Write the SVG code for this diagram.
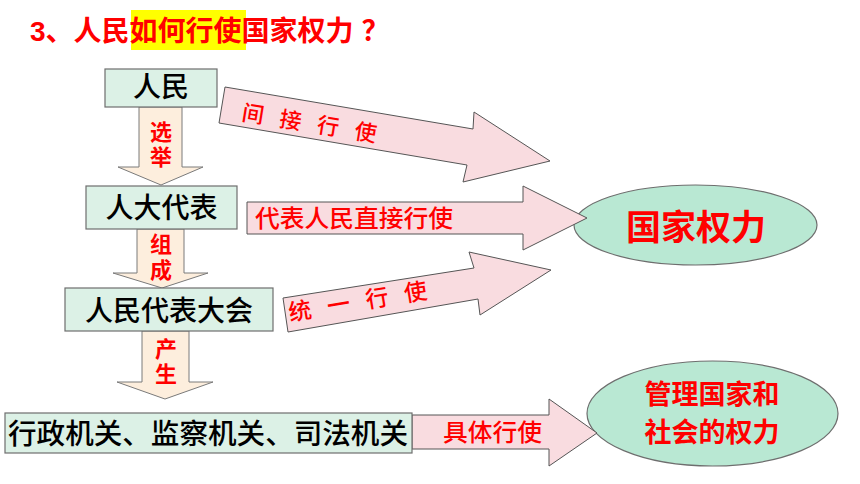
<svg xmlns="http://www.w3.org/2000/svg" width="860" height="484" viewBox="0 0 860 484">
<style>
.box{fill:#DCF1E6;stroke:#6E6E6E;stroke-width:1.2}
.ell{fill:#B9E8D3;stroke:#6E6E6E;stroke-width:1.2}
.down{fill:#FDEEDD;stroke:#7A7A7A;stroke-width:1}
.right{fill:#F9DCE0;stroke:#555;stroke-width:1}
.nt{font-family:"Noto Sans CJK SC","Liberation Sans",sans-serif;font-size:28px;fill:#000;text-anchor:middle;font-weight:500}
.lbl{font-family:"Liberation Sans","Noto Sans CJK SC",sans-serif;fill:#FF0000;font-weight:bold;font-size:22px;text-anchor:middle}
.rl{font-family:"Noto Sans CJK SC","Liberation Sans",sans-serif;fill:#FF0000;font-weight:500}
</style>
<rect width="860" height="484" fill="#FFFFFF"/>
<g id="title">
<rect x="131" y="10" width="115" height="40" fill="#FFFF00"/>
<text x="30" y="41" font-family="Liberation Sans,Noto Sans CJK SC,sans-serif" font-size="28" font-weight="bold" fill="#FF0000">3、人民如何行使国家权力<tspan dx="8" font-family="Noto Sans CJK SC,sans-serif">？</tspan></text>
</g>
<g id="node-guojiaquanli">
<ellipse class="ell" cx="695.5" cy="225" rx="121.5" ry="40"/>
<text x="696" y="240" font-family="Noto Sans CJK SC,sans-serif" font-size="35" font-weight="bold" fill="#FF0000" text-anchor="middle">国家权力</text>
</g>
<g id="node-guanli">
<ellipse class="ell" cx="712.5" cy="413.5" rx="125.5" ry="52.5"/>
<text font-family="Noto Sans CJK SC,sans-serif" font-size="27" font-weight="bold" fill="#FF0000" text-anchor="middle"><tspan x="712" y="404">管理国家和</tspan><tspan x="712" y="442">社会的权力</tspan></text>
</g>
<g id="connectors">
<path class="down" d="M139,107 L182,107 L182,167 L203,167 L161,185 L118,167 L139,167 Z"/>
<text class="lbl" x="161" y="140">选</text>
<text class="lbl" x="161" y="165">举</text>
<path class="down" d="M137,229 L184,229 L184,273 L208,273 L162,288 L113,273 L137,273 Z"/>
<text class="lbl" x="161" y="252">组</text>
<text class="lbl" x="161" y="278">成</text>
<path class="down" d="M142,331 L189,331 L189,382 L213,382 L165,399 L117,382 L142,382 Z"/>
<text class="lbl" x="166" y="357">产</text>
<text class="lbl" x="166" y="382">生</text>
<path class="right" d="M225,87 L473,129 L474,112 L550,161 L463,182 L467,165 L219,123 Z"/>
<text class="rl" font-size="22" letter-spacing="16" transform="translate(241,120) rotate(9.3)">间接行使</text>
<path class="right" d="M247,202 L523,202 L523,186 L587,218 L523,250 L523,234 L247,234 Z"/>
<text class="rl" x="255" y="227" font-size="24" textLength="198" lengthAdjust="spacingAndGlyphs">代表人民直接行使</text>
<path class="right" d="M283,298 L474,268 L469,252 L551,270 L480,315 L478,299 L288,332 Z"/>
<text class="rl" font-size="23" letter-spacing="16" transform="translate(290,321) rotate(-9.4)">统一行使</text>
<path class="right" d="M412,415 L549,415 L549,399 L597,433 L549,466 L549,449 L412,449 Z"/>
<text class="rl" x="443" y="441" font-size="24" textLength="99" lengthAdjust="spacingAndGlyphs">具体行使</text>
</g>
<g id="node-renmin">
<rect class="box" x="105" y="69" width="112" height="38"/>
<text class="nt" x="161" y="97">人民</text>
</g>
<g id="node-rendadaibiao">
<rect class="box" x="86" y="186" width="151" height="43"/>
<text class="nt" x="161.5" y="218">人大代表</text>
</g>
<g id="node-renmindaibiaodahui">
<rect class="box" x="65" y="288" width="208" height="43"/>
<text class="nt" x="169" y="321">人民代表大会</text>
</g>
<g id="node-jiguan">
<rect class="box" x="5" y="413" width="407" height="40"/>
<text class="nt" x="208" y="444" textLength="400" lengthAdjust="spacingAndGlyphs">行政机关、监察机关、司法机关</text>
</g>
</svg>
